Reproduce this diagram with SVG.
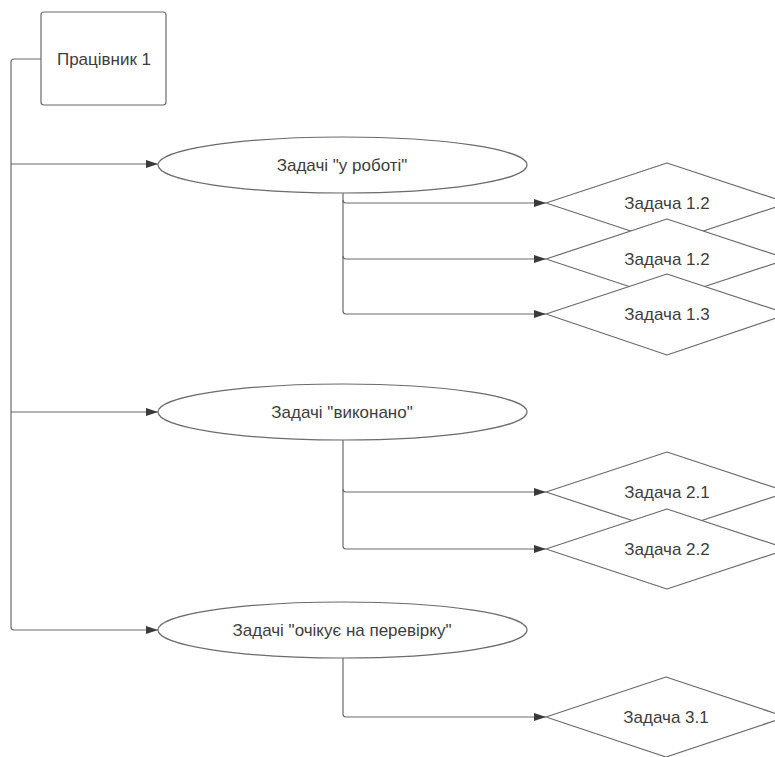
<svg xmlns="http://www.w3.org/2000/svg" width="775" height="757" viewBox="0 0 775 757">
  <defs>
    <marker id="arrow" viewBox="0 0 12 8" refX="12" refY="4" markerWidth="12" markerHeight="8" markerUnits="userSpaceOnUse" orient="auto">
      <path d="M0,0 L12,4 L0,8 Z" fill="#3a3a3a"/>
    </marker>
  </defs>
  <style>
    .shape { fill: #ffffff; stroke: #6b6b6b; stroke-width: 1.2; stroke-linejoin: round; }
    .link { fill: none; stroke: #6b6b6b; stroke-width: 1.2; stroke-linejoin: round; }
    .label { font-family: "Liberation Sans", Arial, sans-serif; font-size: 17px; fill: #3d3d3d; text-anchor: middle; dominant-baseline: central; }
  </style>
  <rect width="775" height="757" fill="#ffffff"/>

  <!-- connectors -->
  <g id="connectors">
    <path class="link" d="M41,59 H14 Q11,59 11,62 V627 Q11,630 14,630 H158" marker-end="url(#arrow)"/>
    <path class="link" d="M11,164 H158" marker-end="url(#arrow)"/>
    <path class="link" d="M11,412 H158" marker-end="url(#arrow)"/>

    <path class="link" d="M343,193 V311 Q343,314 346,314 H546" marker-end="url(#arrow)"/>
    <path class="link" d="M343,200 Q343,203 346,203 H546" marker-end="url(#arrow)"/>
    <path class="link" d="M343,256 Q343,259 346,259 H546" marker-end="url(#arrow)"/>

    <path class="link" d="M343,440 V546 Q343,549 346,549 H546" marker-end="url(#arrow)"/>
    <path class="link" d="M343,489 Q343,492 346,492 H546" marker-end="url(#arrow)"/>

    <path class="link" d="M343,658 V714 Q343,717 346,717 H546" marker-end="url(#arrow)"/>
  </g>

  <!-- worker -->
  <g id="worker">
    <rect class="shape" x="41" y="12" width="125" height="93" rx="3"/>
    <text class="label" x="104" y="59">Працівник 1</text>
  </g>

  <!-- task groups -->
  <g id="group-in-progress">
    <ellipse class="shape" cx="342.5" cy="165" rx="184.5" ry="28"/>
    <text class="label" x="342" y="165">Задачі "у роботі"</text>
  </g>
  <g id="group-done">
    <ellipse class="shape" cx="342.5" cy="412" rx="184.5" ry="28"/>
    <text class="label" x="342" y="412">Задачі "виконано"</text>
  </g>
  <g id="group-review">
    <ellipse class="shape" cx="342.5" cy="630" rx="184.5" ry="28"/>
    <text class="label" x="342" y="630">Задачі "очікує на перевірку"</text>
  </g>

  <!-- tasks -->
  <g id="task-1-2a">
    <path class="shape" d="M546,203 L667,163 L788,203 L667,243 Z"/>
    <text class="label" x="667" y="203">Задача 1.2</text>
  </g>
  <g id="task-1-2b">
    <path class="shape" d="M546,259 L667,219 L788,259 L667,299 Z"/>
    <text class="label" x="667" y="259">Задача 1.2</text>
  </g>
  <g id="task-1-3">
    <path class="shape" d="M546,314 L667,274 L788,314 L667,355 Z"/>
    <text class="label" x="667" y="314">Задача 1.3</text>
  </g>
  <g id="task-2-1">
    <path class="shape" d="M546,492 L667,452 L788,492 L667,532 Z"/>
    <text class="label" x="667" y="492">Задача 2.1</text>
  </g>
  <g id="task-2-2">
    <path class="shape" d="M546,549 L667,509 L788,549 L667,589 Z"/>
    <text class="label" x="667" y="549">Задача 2.2</text>
  </g>
  <g id="task-3-1">
    <path class="shape" d="M546,717 L666,677 L786,717 L666,757 Z"/>
    <text class="label" x="666" y="717">Задача 3.1</text>
  </g>
</svg>
